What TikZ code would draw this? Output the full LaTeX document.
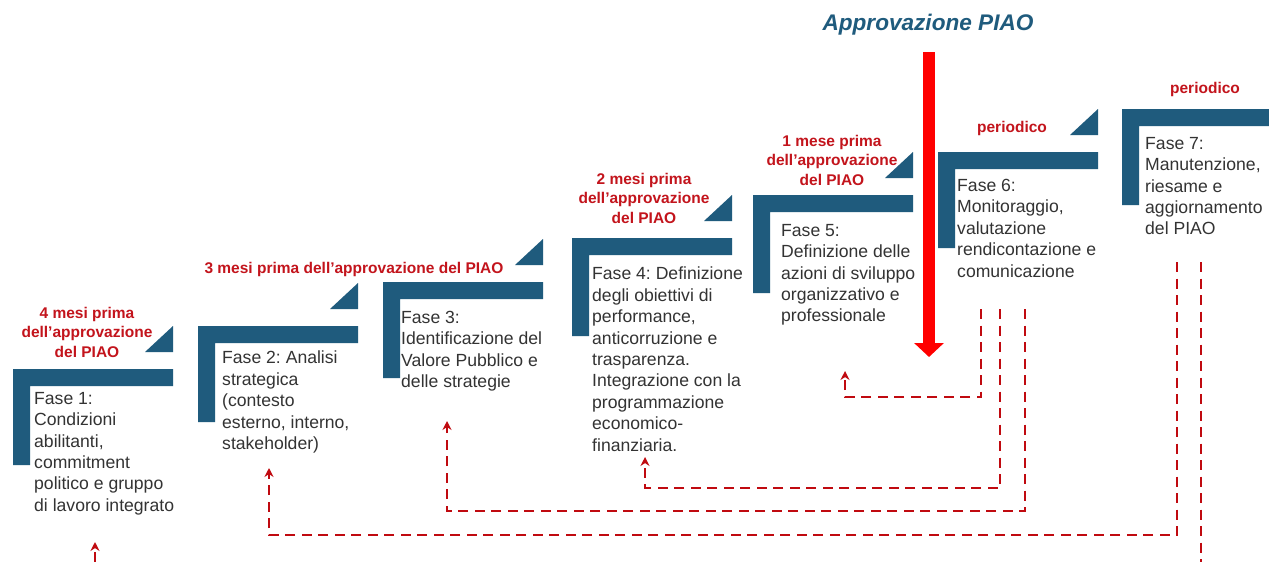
\documentclass[tikz,border=0pt]{standalone}
\usepackage{fontspec}
\setmainfont{Liberation Sans}
\usetikzlibrary{arrows.meta}
\definecolor{piaoblue}{HTML}{1F5B7D}
\definecolor{piaored}{HTML}{C3141C}
\definecolor{dashred}{HTML}{C00A10}
\definecolor{textgray}{HTML}{333333}
\frenchspacing
\begin{document}
\begin{tikzpicture}[x=1pt,y=-1pt,
  fase/.style={anchor=north west, align=left, text=textgray, inner sep=0pt,
    font=\fontsize{17.6}{21.4}\selectfont},
  when/.style={align=center, text=piaored, inner sep=0pt,
    font=\bfseries\fontsize{15.5}{19.5}\selectfont},
  fb/.style={draw=dashred, line width=2pt, dash pattern=on 10pt off 6.5pt,
    -{Stealth[length=9pt,width=9pt]}},
  bigarrow/.style={draw=red, line width=12pt, -{Triangle[length=14pt,width=29pt]}}
]
\useasboundingbox (0,0) rectangle (1269,562);
\clip (0,0) rectangle (1269,562);
\fill[white] (0,0) rectangle (1269,562);

% steps (L-shaped bars with triangles)
\foreach \x/\y/\b in {13/369/465, 198/326/422, 383/282/378, 572/238/336,
                      753/195/293, 938/152/248} {
  \fill[piaoblue] (\x,\y) -- (\x+160,\y) -- (\x+160,\y+17) -- (\x+17,\y+17)
                  -- (\x+17,\b) -- (\x,\b) -- cycle;
  \fill[piaoblue] (\x+160,\y-17) -- (\x+160,\y-43) -- (\x+132,\y-17) -- cycle;
}
\fill[piaoblue] (1122,109) -- (1290,109) -- (1290,126) -- (1139,126)
                -- (1139,205) -- (1122,205) -- cycle;

% phase texts
\node[fase] (f1) at (34,392) {Fase 1:\\Condizioni\\abilitanti,\\commitment\\politico e gruppo\\di lavoro integrato};
\node[fase] (f2) at (222,351) {Fase 2: Analisi\\strategica\\(contesto\\esterno, interno,\\stakeholder)};
\node[fase] (f3) at (401,311) {Fase 3:\\Identificazione del\\Valore Pubblico e\\delle strategie};
\node[fase] (f4) at (592,267) {Fase 4: Definizione\\degli obiettivi di\\performance,\\anticorruzione e\\trasparenza.\\Integrazione con la\\programmazione\\economico-\\finanziaria.};
\node[fase] (f5) at (781,224) {Fase 5:\\Definizione delle\\azioni di sviluppo\\organizzativo e\\professionale};
\node[fase] (f6) at (957,179) {Fase 6:\\Monitoraggio,\\valutazione\\rendicontazione e\\comunicazione};
\node[fase] (f7) at (1145,137) {Fase 7:\\Manutenzione,\\riesame e\\aggiornamento\\del PIAO};

% timing labels
\node[when] (w1) at (87,332) {4 mesi prima\\dell’approvazione\\del PIAO};
\node[when] (w2) at (354,269) {3 mesi prima dell’approvazione del PIAO};
\node[when] (w4) at (644,198) {2 mesi prima\\dell’approvazione\\del PIAO};
\node[when] (w5) at (832,160) {1 mese prima\\dell’approvazione\\del PIAO};
\node[when] (w6) at (1012,128) {periodico};
\node[when] (w7) at (1205,89) {periodico};

% approval
\node[text=piaoblue, inner sep=0pt, font=\bfseries\itshape\fontsize{22.6}{26}\selectfont] (title) at (928,25) {Approvazione PIAO};
\coordinate (apTop) at (929,52);
\coordinate (apBot) at (929,357);
\draw[bigarrow] (apTop) -- (apBot);

% feedback dashed connectors
\coordinate (sA) at (981,309);  \coordinate (tA) at (845,371);
\coordinate (sB) at (1000,309); \coordinate (tB) at (645,457);
\coordinate (sC) at (1025,309); \coordinate (tC) at (447,421);
\coordinate (sD) at (1177,262); \coordinate (tD) at (269,468);
\coordinate (sE) at (1201,262); \coordinate (tE) at (95,542);
\draw[fb] (sA) |- (845,397) -- (tA);
\draw[fb] (sB) |- (645,488) -- (tB);
\draw[fb] (sC) |- (447,511) -- (tC);
\draw[fb] (sD) |- (269,535) -- (tD);
\draw[fb] (sE) |- (95,585) -- (tE);
\end{tikzpicture}
\end{document}
